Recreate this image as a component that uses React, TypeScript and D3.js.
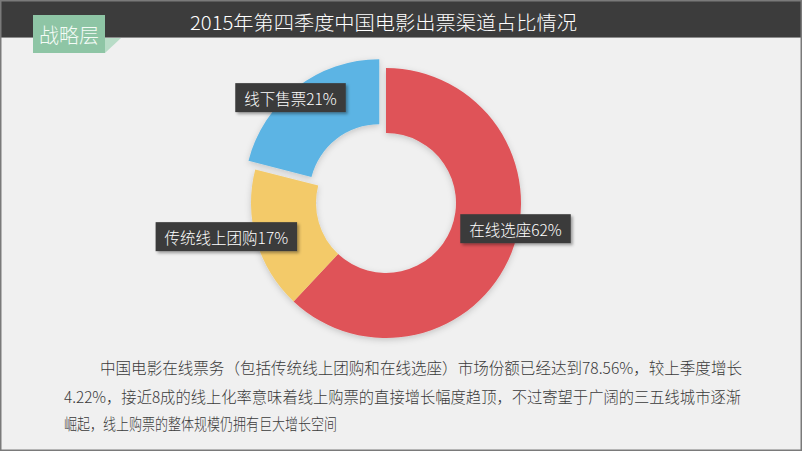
import { useEffect, useRef } from 'react';
import * as d3 from 'd3';

// slices, clockwise from 12 o'clock
const categories = ['在线选座', '传统线上团购', '线下售票'];
const shares = [62, 17, 21];
const colors = ['#df5358', '#f3ca69', '#5bb4e4'];
const exploded = [false, false, true];

const title = '2015年第四季度中国电影出票渠道占比情况';
const tag = '战略层';
const paragraph = [
  '中国电影在线票务（包括传统线上团购和在线选座）市场份额已经达到78.56%，较上季度增长',
  '4.22%，接近8成的线上化率意味着线上购票的直接增长幅度趋顶，不过寄望于广阔的三五线城市逐渐',
  '崛起，线上购票的整体规模仍拥有巨大增长空间',
];

const W = 802;
const H = 451;
const FONT = '"Noto Sans CJK SC", "Noto Sans", sans-serif';

export default function App() {
  const svgRef = useRef<SVGSVGElement>(null);

  useEffect(() => {
    if (!svgRef.current) return;
    const svg = d3.select(svgRef.current);
    svg.selectAll('*').remove();

    const defs = svg.append('defs');
    const ds = defs.append('filter').attr('id', 'donutShadow')
      .attr('x', '-20%').attr('y', '-20%').attr('width', '140%').attr('height', '140%');
    ds.append('feDropShadow').attr('dx', 0).attr('dy', 2).attr('stdDeviation', 3)
      .attr('flood-color', '#000').attr('flood-opacity', 0.18);
    const ls = defs.append('filter').attr('id', 'labelShadow')
      .attr('x', '-20%').attr('y', '-30%').attr('width', '150%').attr('height', '170%');
    ls.append('feDropShadow').attr('dx', 2).attr('dy', 2).attr('stdDeviation', 1.5)
      .attr('flood-color', '#000').attr('flood-opacity', 0.35);

    // page
    svg.append('rect').attr('width', W).attr('height', H).attr('fill', '#f0f0f0');

    // header
    svg.append('rect').attr('width', W).attr('height', 37).attr('fill', '#3c3c3c');
    svg.append('line').attr('x1', 0).attr('x2', W).attr('y1', 37.5).attr('y2', 37.5)
      .attr('stroke', '#8c8c8c').attr('stroke-width', 1);
    svg.append('text')
      .attr('x', 190).attr('y', 21)
      .attr('dominant-baseline', 'central')
      .attr('textLength', 387).attr('lengthAdjust', 'spacingAndGlyphs')
      .style('font-family', FONT).style('font-size', '19px').style('font-weight', 300)
      .style('fill', '#fff')
      .text(title);

    // green tag with folded corner
    svg.append('path').attr('d', 'M105,38 L121,38 L105,53 Z').attr('fill', '#b8dcc7');
    svg.append('rect').attr('x', 33).attr('y', 15).attr('width', 72).attr('height', 38)
      .attr('fill', '#8ec5a5');
    svg.append('text')
      .attr('x', 69).attr('y', 34)
      .attr('text-anchor', 'middle').attr('dominant-baseline', 'central')
      .style('font-family', FONT).style('font-size', '20px').style('font-weight', 300)
      .style('fill', '#f4fbf6')
      .text(tag);

    // donut
    const cx = 386;
    const cy = 203;
    const outerR = 135;
    const innerR = 70;
    const explodeBy = 11;

    const pie = d3.pie<number>().sort(null).value((d) => d);
    const arcs = pie(shares);
    const arc = d3.arc<d3.PieArcDatum<number>>().innerRadius(innerR).outerRadius(outerR);

    const g = svg.append('g')
      .attr('transform', `translate(${cx},${cy})`)
      .attr('filter', 'url(#donutShadow)');

    const offsetOf = (d: d3.PieArcDatum<number>, i: number) => {
      if (!exploded[i]) return [0, 0];
      const mid = (d.startAngle + d.endAngle) / 2;
      return [Math.sin(mid) * explodeBy, -Math.cos(mid) * explodeBy];
    };

    g.selectAll('path.slice')
      .data(arcs)
      .join('path')
      .attr('class', 'slice')
      .attr('d', arc)
      .attr('transform', (d, i) => {
        const [ox, oy] = offsetOf(d, i);
        return `translate(${ox},${oy})`;
      })
      .attr('fill', (_, i) => colors[i]);

    // data labels, anchored to the outer edge of each slice
    const labelArc = d3.arc<d3.PieArcDatum<number>>().innerRadius(outerR).outerRadius(outerR);
    const labelNudge = [[4, -24], [-30, -4], [-6, 10]];

    const labels = svg.append('g').attr('transform', `translate(${cx},${cy})`);
    arcs.forEach((d, i) => {
      const [px, py] = labelArc.centroid(d);
      const [ox, oy] = offsetOf(d, i);
      const x = px + ox + labelNudge[i][0];
      const y = py + oy + labelNudge[i][1];
      const lg = labels.append('g').attr('transform', `translate(${x},${y})`);
      const rect = lg.append('rect').attr('fill', '#3b3b3b').attr('filter', 'url(#labelShadow)');
      const t = lg.append('text')
        .attr('text-anchor', 'middle').attr('dominant-baseline', 'central')
        .style('font-family', FONT).style('font-size', '15.5px').style('font-weight', 300)
        .style('fill', '#fff')
        .text(`${categories[i]}${shares[i]}%`);
      const w = (t.node() as SVGTextElement).getComputedTextLength();
      const padX = 9;
      const h = 29;
      rect.attr('x', -w / 2 - padX).attr('y', -h / 2).attr('width', w + padX * 2).attr('height', h);
    });

    // paragraph
    const lineX = [100, 64, 64];
    const lineW = [642, 677, 273];
    const lineY = [367, 396, 423];
    paragraph.forEach((line, i) => {
      svg.append('text')
        .attr('x', lineX[i]).attr('y', lineY[i])
        .attr('dominant-baseline', 'central')
        .attr('textLength', lineW[i]).attr('lengthAdjust', 'spacingAndGlyphs')
        .style('font-family', FONT).style('font-size', '15.5px').style('font-weight', 300)
        .style('fill', '#3a3a3a')
        .text(line);
    });

    // frame
    svg.append('rect').attr('x', 0.75).attr('y', 0.75).attr('width', W - 1.5).attr('height', H - 1.5)
      .attr('fill', 'none').attr('stroke', '#7a7a7a').attr('stroke-width', 1.5);
  }, []);

  return (
    <svg
      ref={svgRef}
      width={W}
      height={H}
      style={{ position: 'absolute', left: 0, top: 0, display: 'block' }}
    />
  );
}
